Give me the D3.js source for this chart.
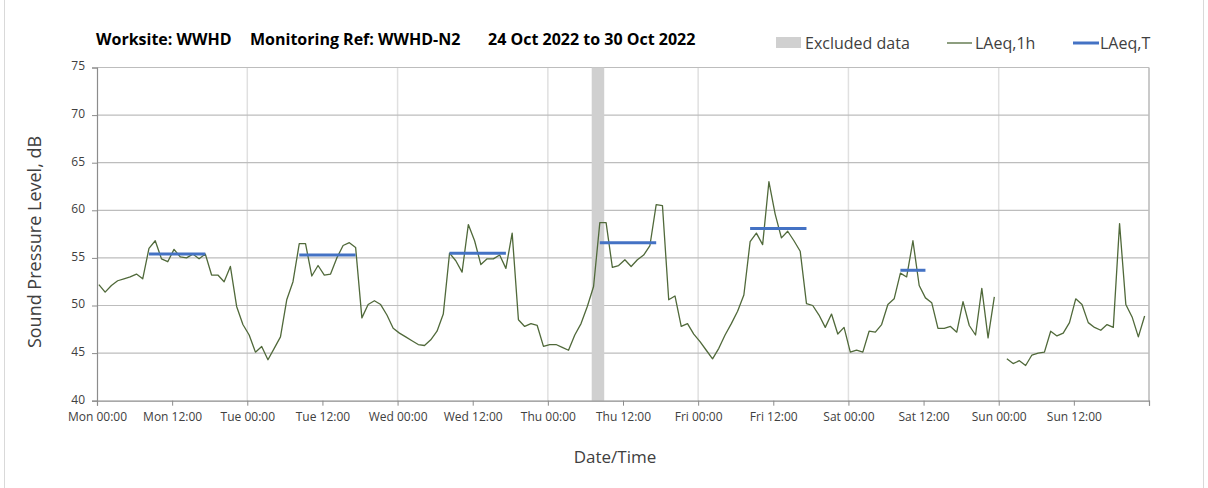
<!DOCTYPE html>
<html>
<head>
<meta charset="utf-8">
<script src="https://cdn.jsdelivr.net/npm/d3@7"></script>
<style>
  html, body { margin: 0; padding: 0; background: #fff; }
  svg { display: block; font-family: "Open Sans", "Lato", sans-serif; }
</style>
</head>
<body>
<svg id="chart" width="1208" height="488"></svg>
<script>
// LAeq,1h values, one per hour from Mon 00:00 (null = no data)
const laeq1h = [
  52.2, 51.4, 52.1, 52.6, 52.8, 53.0, 53.3, 52.8, 56.0, 56.8, 54.9, 54.6,
  55.9, 55.1, 55.0, 55.4, 54.9, 55.4, 53.2, 53.2, 52.5, 54.1, 49.9, 48.0,
  46.9, 45.1, 45.7, 44.3, 45.5, 46.7, 50.6, 52.5, 56.5, 56.5, 53.1, 54.2,
  53.2, 53.3, 55.0, 56.3, 56.6, 56.1, 48.7, 50.1, 50.5, 50.1, 49.0, 47.6,
  47.1, 46.7, 46.3, 45.9, 45.8, 46.4, 47.3, 49.1, 55.5, 54.7, 53.5, 58.5,
  56.8, 54.3, 54.9, 54.9, 55.3, 53.9, 57.6, 48.5, 47.8, 48.1, 47.9, 45.7,
  45.9, 45.9, 45.6, 45.3, 46.9, 48.1, 49.9, 52.0, 58.7, 58.7, 54.0, 54.2,
  54.8, 54.1, 54.8, 55.3, 56.3, 60.6, 60.5, 50.6, 51.0, 47.8, 48.1, 47.0,
  46.2, 45.3, 44.4, 45.5, 46.9, 48.1, 49.4, 51.1, 56.7, 57.6, 56.4, 63.0,
  59.6, 57.1, 57.8, 56.8, 55.7, 50.2, 50.0, 49.0, 47.7, 49.1, 47.0, 47.7,
  45.1, 45.3, 45.1, 47.3, 47.2, 48.0, 50.1, 50.7, 53.4, 53.0, 56.8, 52.1,
  50.8, 50.3, 47.6, 47.6, 47.8, 47.2, 50.4, 47.9, 46.9, 51.8, 46.6, 50.9,
  null, 44.4, 43.9, 44.2, 43.7, 44.8, 45.0, 45.1, 47.3, 46.8, 47.1, 48.2,
  50.7, 50.1, 48.2, 47.7, 47.4, 48.0, 47.7, 58.6, 50.1, 48.8, 46.7, 48.9
];

// LAeq,T periods (hour index from Mon 00:00)
const periodStart = [8, 32, 56, 80, 104, 128];
const periodEnd   = [17, 41, 65, 89, 113, 132];
const periodValue = [55.4, 55.3, 55.5, 56.6, 58.1, 53.7];

// excluded data window (hours)
const excludedStart = [79];
const excludedEnd   = [81];

const tickHours  = [0, 12, 24, 36, 48, 60, 72, 84, 96, 108, 120, 132, 144, 156];
const tickLabels = ["Mon 00:00", "Mon 12:00", "Tue 00:00", "Tue 12:00", "Wed 00:00", "Wed 12:00",
                    "Thu 00:00", "Thu 12:00", "Fri 00:00", "Fri 12:00", "Sat 00:00", "Sat 12:00",
                    "Sun 00:00", "Sun 12:00"];
const dayLines = [24, 48, 72, 96, 120, 144, 168];
const yTicks = [40, 45, 50, 55, 60, 65, 70, 75];

const POINT_OFFSET = 0.3; // hourly points sit a little after the hour mark

const svg = d3.select("#chart");
const plot = { left: 97, right: 1149, top: 67.5, bottom: 400.7 };

const x = d3.scaleLinear().domain([0, 168]).range([plot.left, plot.right]);
const y = d3.scaleLinear().domain([40, 75]).range([plot.bottom, plot.top]);

// outer frame
svg.append("line").attr("x1", 4.5).attr("x2", 4.5).attr("y1", 0).attr("y2", 488)
  .attr("stroke", "#d9d9d9").attr("stroke-width", 1);
svg.append("line").attr("x1", 1203.5).attr("x2", 1203.5).attr("y1", 0).attr("y2", 488)
  .attr("stroke", "#d9d9d9").attr("stroke-width", 1);

// gridlines
svg.append("g").selectAll("line").data(dayLines).join("line")
  .attr("x1", d => x(d)).attr("x2", d => x(d))
  .attr("y1", plot.top).attr("y2", plot.bottom)
  .attr("stroke", d => d === 168 ? "#b8b8b8" : "#e0e0e0").attr("stroke-width", 1.5);

svg.append("g").selectAll("line").data(yTicks.filter(v => v > 40)).join("line")
  .attr("x1", plot.left).attr("x2", plot.right)
  .attr("y1", d => y(d)).attr("y2", d => y(d))
  .attr("stroke", "#bdbdbd").attr("stroke-width", 1.2);

// excluded band
svg.append("g").selectAll("rect").data(excludedStart).join("rect")
  .attr("x", (d, i) => x(d)).attr("width", (d, i) => x(excludedEnd[i]) - x(d))
  .attr("y", plot.top).attr("height", plot.bottom - plot.top)
  .attr("fill", "#d0d0d0");

// LAeq,1h line
const line = d3.line()
  .defined(d => d != null)
  .x((d, i) => x(i + POINT_OFFSET))
  .y(d => y(d));
svg.append("path").datum(laeq1h)
  .attr("d", line)
  .attr("fill", "none").attr("stroke", "#50693a").attr("stroke-width", 1.3)
  .attr("stroke-linejoin", "round");

// LAeq,T bars
svg.append("g").selectAll("line").data(periodValue).join("line")
  .attr("x1", (d, i) => x(periodStart[i] + POINT_OFFSET))
  .attr("x2", (d, i) => x(periodEnd[i] + POINT_OFFSET))
  .attr("y1", d => y(d)).attr("y2", d => y(d))
  .attr("stroke", "#4472c4").attr("stroke-width", 3);

// axes
const yAxis = svg.append("g").attr("transform", `translate(${plot.left},0)`)
  .call(d3.axisLeft(y).tickValues(yTicks).tickSize(5).tickPadding(7).tickFormat(d3.format("d")));
const xAxis = svg.append("g").attr("transform", `translate(0,${plot.bottom})`)
  .call(d3.axisBottom(x).tickValues(tickHours.concat([168])).tickSize(5).tickPadding(7)
    .tickFormat((d, i) => tickLabels[i] || ""));
[yAxis, xAxis].forEach(a => {
  a.select(".domain").attr("stroke", "#8c8c8c").attr("stroke-width", 1.2);
  a.selectAll(".tick line").attr("stroke", "#8c8c8c");
  a.selectAll("text").attr("fill", "#404040").style("font-size", "12px")
    .style("font-family", "'Open Sans', sans-serif");
});
yAxis.selectAll(".tick text").attr("dy", "0.2em");

// axis titles
svg.append("text").attr("transform", "translate(41,242) rotate(-90)")
  .attr("text-anchor", "middle").attr("fill", "#404040").style("font-size", "18px")
  .text("Sound Pressure Level, dB");
svg.append("text").attr("x", 615).attr("y", 463).attr("text-anchor", "middle")
  .attr("fill", "#404040").style("font-size", "17px").text("Date/Time");

// title
const title = svg.append("text").attr("x", 96).attr("y", 45)
  .attr("fill", "#000").style("font-size", "16px").style("font-weight", "bold");
title.append("tspan").text("Worksite: WWHD");
title.append("tspan").attr("x", 250).text("Monitoring Ref: WWHD-N2");
title.append("tspan").attr("x", 488).text("24 Oct 2022 to 30 Oct 2022");

// legend
const leg = svg.append("g").style("font-size", "16px").attr("fill", "#404040");
leg.append("rect").attr("x", 776).attr("y", 37).attr("width", 25).attr("height", 11).attr("fill", "#d0d0d0");
leg.append("text").attr("x", 805).attr("y", 49).text("Excluded data");
leg.append("line").attr("x1", 947).attr("x2", 972).attr("y1", 43).attr("y2", 43)
  .attr("stroke", "#50693a").attr("stroke-width", 1.3);
leg.append("text").attr("x", 975).attr("y", 49).text("LAeq,1h");
leg.append("line").attr("x1", 1073).attr("x2", 1099).attr("y1", 43).attr("y2", 43)
  .attr("stroke", "#4472c4").attr("stroke-width", 3);
leg.append("text").attr("x", 1100).attr("y", 49).text("LAeq,T");
</script>
</body>
</html>
